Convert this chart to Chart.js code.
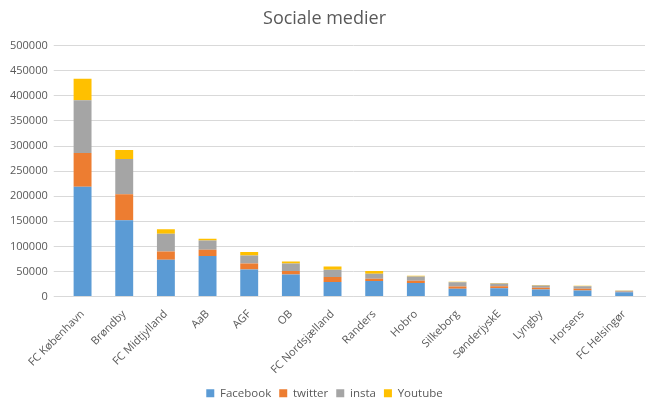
<!DOCTYPE html>
<html>
<head>
<meta charset="utf-8">
<script src="https://cdn.jsdelivr.net/npm/chart.js@4"></script>
<style>
  html, body { margin: 0; padding: 0; background: #fff; }
  #wrap { width: 655px; height: 410px; }
</style>
</head>
<body>
<div id="wrap"><canvas id="chart"></canvas></div>
<script>
const clubs = ['FC København', 'Brøndby', 'FC Midtjylland', 'AaB', 'AGF', 'OB', 'FC Nordsjælland',
  'Randers', 'Hobro', 'Silkeborg', 'SønderjyskE', 'Lyngby', 'Horsens', 'FC Helsingør']
const facebook = [219000, 152000, 73500, 81000, 54000, 44000, 29000, 31000, 27000, 15500, 16500, 14000, 12000, 8500]
const twitter = [67000, 52000, 16500, 12500, 12000, 7000, 10000, 4500, 4500, 4500, 4000, 3500, 3500, 1000]
const insta = [105000, 70000, 35000, 18500, 16000, 15000, 14500, 10000, 8500, 8500, 5500, 4500, 5000, 2000]
const youtube = [43000, 18000, 9000, 3000, 7000, 4000, 6500, 5500, 1500, 1000, 1000, 1000, 1000, 700]
const yTicks = [0, 50000, 100000, 150000, 200000, 250000, 300000, 350000, 400000, 450000, 500000]

function createSocialChart(element) {
  const data = {
    labels: clubs,
    datasets: [
      { label: 'Facebook', data: facebook, backgroundColor: '#5b9bd5' },
      { label: 'twitter', data: twitter, backgroundColor: '#ed7d31' },
      { label: 'insta', data: insta, backgroundColor: '#a5a5a5' },
      { label: 'Youtube', data: youtube, backgroundColor: '#ffc000' },
    ]
  };
  const config = {
    type: 'bar',
    data: data,
    options: {
      responsive: true,
      maintainAspectRatio: false,
      animation: false,
      layout: { padding: { left: 4, right: 10, top: 6, bottom: 1 } },
      datasets: { bar: { categoryPercentage: 1, barPercentage: 0.43 } },
      scales: {
        x: {
          stacked: true,
          grid: { display: false },
          border: { color: '#d9d9d9' },
          ticks: {
            color: '#595959',
            font: { family: 'Open Sans', size: 11 },
            minRotation: 45,
            maxRotation: 45,
            padding: 3
          }
        },
        y: {
          stacked: true,
          min: 0,
          max: 500000,
          afterBuildTicks: (axis) => { axis.ticks = yTicks.map(v => ({ value: v })) },
          grid: { color: '#d9d9d9' },
          border: { display: false },
          ticks: {
            color: '#595959',
            font: { family: 'Open Sans', size: 11 },
            padding: 6,
            callback: (value) => String(value)
          }
        }
      },
      plugins: {
        title: {
          display: true,
          text: 'Sociale medier',
          color: '#595959',
          font: { family: 'Open Sans', size: 18, weight: 'normal' },
          padding: { top: 2, bottom: 16 }
        },
        legend: {
          position: 'bottom',
          labels: {
            color: '#595959',
            font: { family: 'Open Sans', size: 11.5 },
            boxWidth: 8,
            boxHeight: 8,
            padding: 8
          }
        },
        tooltip: { enabled: false }
      }
    },
  };
  new Chart(element, config)
}

window.addEventListener('load', (event) => {
  createSocialChart(document.getElementById('chart'))
});
</script>
</body>
</html>
